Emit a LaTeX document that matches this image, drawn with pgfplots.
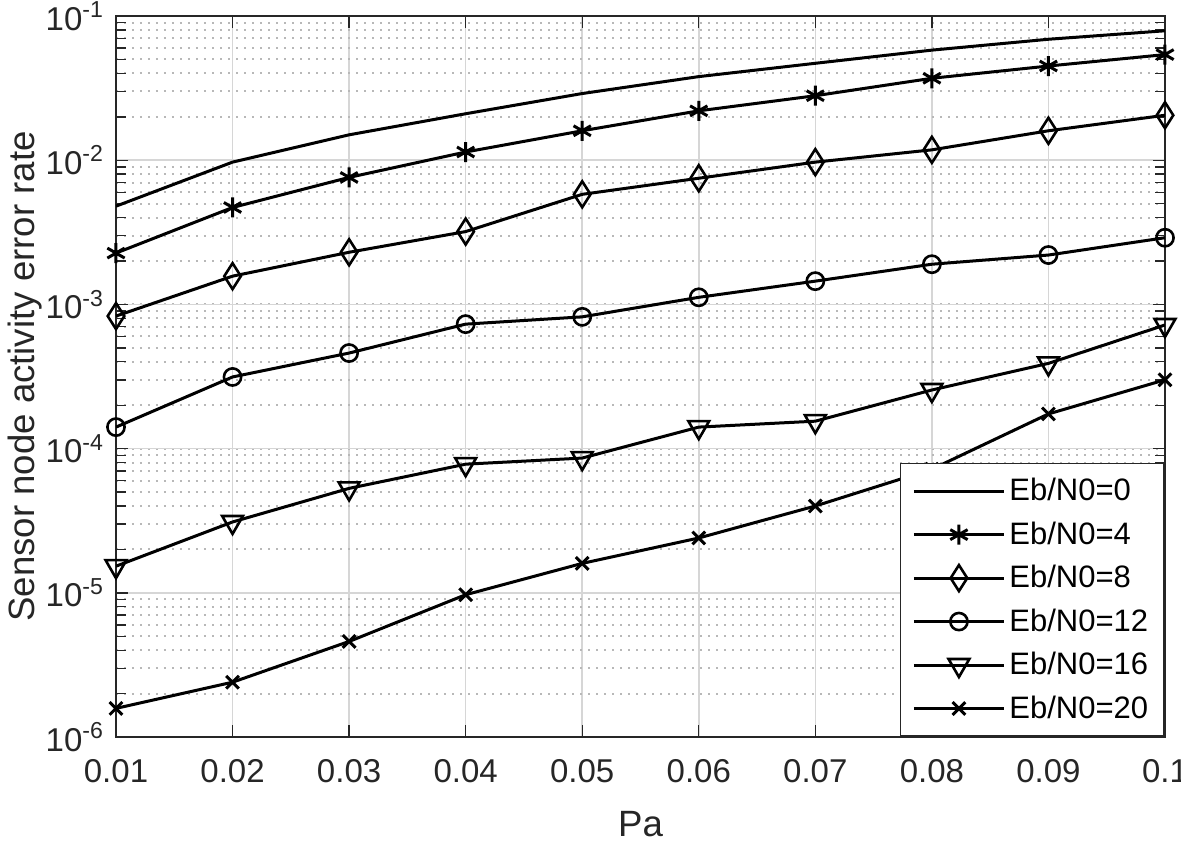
\documentclass[border=0pt]{standalone}
\usepackage{pgfplots}
\pgfplotsset{compat=1.18}
\usepackage{fontspec}
\setmainfont{Liberation Sans}
\definecolor{axgray}{RGB}{38,38,38}
\begin{document}
\begin{tikzpicture}[font=\fontsize{16.5}{19.5}\selectfont]
\path[use as bounding box] (-58pt,-52.5pt) rectangle (532.5pt,368.5pt);
\begin{axis}[
  at={(0,0)}, anchor=south west,
  scale only axis, width=524.5pt, height=360.5pt,
  ymode=log,
  xmin=0.01, xmax=0.1, ymin=1e-6, ymax=1e-1,
  xtick={0.01,0.02,0.03,0.04,0.05,0.06,0.07,0.08,0.09,0.1},
  xticklabels={0.01,0.02,0.03,0.04,0.05,0.06,0.07,0.08,0.09,0.1},
  ytick={1e-6,1e-5,1e-4,1e-3,1e-2,1e-1},
  yticklabels={10\textsuperscript{-6},10\textsuperscript{-5},10\textsuperscript{-4},10\textsuperscript{-3},10\textsuperscript{-2},10\textsuperscript{-1}},
  tick label style={text=axgray},
  xticklabel style={yshift=-7.5pt},
  yticklabel style={xshift=-2.5pt},
  tick align=inside,
  major tick length=6pt, minor tick length=5pt,
  every tick/.style={axgray, line width=0.7pt},
  axis line style={axgray, line width=0.8pt},
  grid=both,
  major grid style={black!16, line width=0.8pt},
  minor grid style={black!28, dash pattern=on 1pt off 3pt, line width=1pt},
  minor x tick num=0,
  xlabel={Pa}, ylabel={Sensor node activity error rate},
  label style={text=axgray, font=\fontsize{18.3}{21}\selectfont},
  xlabel style={at={(axis description cs:0.5,-0.121)}, anchor=center},
  ylabel style={at={(axis description cs:-0.0868,0.5)}, anchor=center},
  legend cell align=left,
  legend style={at={(rel axis cs:1,0)}, anchor=south east, draw=axgray, line width=0.8pt, fill=white,
    font=\fontsize{15.5}{18}\selectfont,
    inner xsep=6pt, inner ysep=5.5pt, row sep=5pt, nodes={inner sep=2pt}},
  legend image code/.code={\draw[mark repeat=2,mark phase=2] plot coordinates {(0pt,0pt)(22.5pt,0pt)(45pt,0pt)};},
  every axis plot/.append style={black, line width=1.5pt},
]
\addplot[mark=none] coordinates {(0.01,4.8e-3)(0.02,9.7e-3)(0.03,1.5e-2)(0.04,2.1e-2)(0.05,2.9e-2)(0.06,3.8e-2)(0.07,4.7e-2)(0.08,5.8e-2)(0.09,6.9e-2)(0.1,7.9e-2)};
\addlegendentry{Eb/N0=0}
\addplot[mark=asterisk, mark size=5pt, mark options={line width=1.5pt}] coordinates {(0.01,2.27e-3)(0.02,4.7e-3)(0.03,7.6e-3)(0.04,1.14e-2)(0.05,1.6e-2)(0.06,2.2e-2)(0.07,2.8e-2)(0.08,3.7e-2)(0.09,4.5e-2)(0.1,5.4e-2)};
\addlegendentry{Eb/N0=4}
\addplot[mark=diamond, mark size=6.5pt, mark options={line width=1.3pt, xscale=0.85}] coordinates {(0.01,8.3e-4)(0.02,1.57e-3)(0.03,2.3e-3)(0.04,3.2e-3)(0.05,5.8e-3)(0.06,7.5e-3)(0.07,9.7e-3)(0.08,1.18e-2)(0.09,1.6e-2)(0.1,2.05e-2)};
\addlegendentry{Eb/N0=8}
\addplot[mark=o, mark size=4.3pt, mark options={line width=1.3pt}] coordinates {(0.01,1.41e-4)(0.02,3.14e-4)(0.03,4.6e-4)(0.04,7.3e-4)(0.05,8.2e-4)(0.06,1.12e-3)(0.07,1.45e-3)(0.08,1.9e-3)(0.09,2.2e-3)(0.1,2.9e-3)};
\addlegendentry{Eb/N0=12}
\addplot[mark=triangle, mark size=6pt, mark options={line width=1.3pt, rotate=180}] coordinates {(0.01,1.53e-5)(0.02,3.1e-5)(0.03,5.3e-5)(0.04,7.8e-5)(0.05,8.6e-5)(0.06,1.41e-4)(0.07,1.55e-4)(0.08,2.55e-4)(0.09,3.9e-4)(0.1,7.2e-4)};
\addlegendentry{Eb/N0=16}
\addplot[mark=x, mark size=4.5pt, mark options={line width=1.5pt}] coordinates {(0.01,1.58e-6)(0.02,2.4e-6)(0.03,4.6e-6)(0.04,9.7e-6)(0.05,1.6e-5)(0.06,2.4e-5)(0.07,4.0e-5)(0.08,7.2e-5)(0.09,1.74e-4)(0.1,3.0e-4)};
\addlegendentry{Eb/N0=20}
\end{axis}
\end{tikzpicture}
\end{document}
